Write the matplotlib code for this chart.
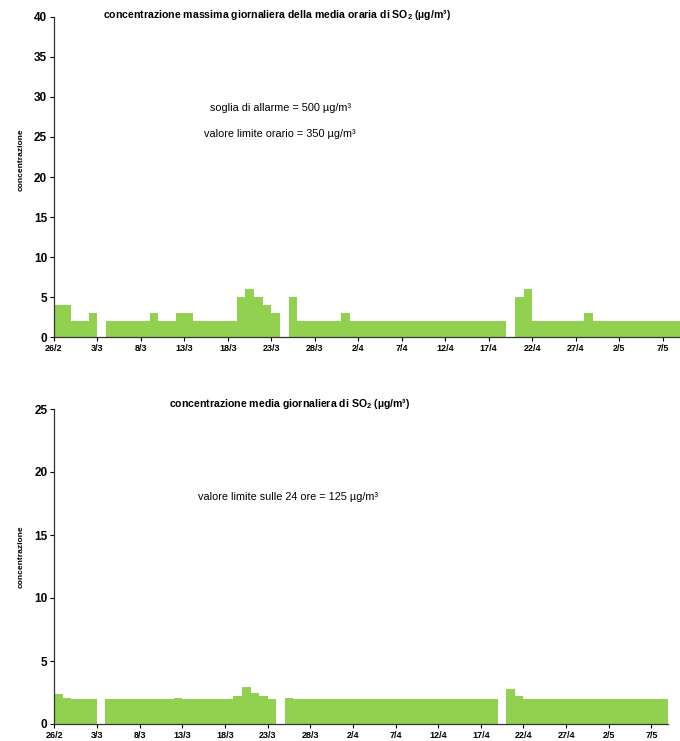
import matplotlib
matplotlib.use("Agg")
import matplotlib.pyplot as plt
import numpy as np
import pandas as pd
from matplotlib import font_manager

# font condensato tipo Arial Narrow, se c'e'
nomi = [f.name for f in font_manager.fontManager.ttflist]
fam = "Liberation Sans Narrow" if "Liberation Sans Narrow" in nomi else "Liberation Sans"
plt.rcParams['font.family'] = [fam, 'DejaVu Sans']
plt.rcParams['mathtext.fontset'] = 'custom'
plt.rcParams['mathtext.rm'] = fam
plt.rcParams['mathtext.bf'] = fam + ':bold'

# giorni dal 26/2 all'8/5 (72 giorni), nan = dato mancante
giorni = pd.date_range("2013-02-26", "2013-05-08", freq="D")
etichette = [f"{d.day}/{d.month}" for d in giorni]

# massimo giornaliero della media oraria
so2_max = ([4, 4, 2] +                                     # feb 26-28
           [2, 3, np.nan, 2, 2, 2, 2, 2, 3, 2, 2, 3, 3,    # mar 1-13
            2, 2, 2, 2, 2, 5, 6, 5, 4, 3, np.nan, 5,       # mar 14-25
            2, 2, 2, 2, 2, 3] +                            # mar 26-31
           [2] * 18 + [np.nan, 5, 6, 2, 2, 2, 2, 2, 2, 3, 2, 2] +  # aprile
           [2] * 8)                                        # maggio 1-8

# media giornaliera
so2_media = ([2.35, 2.1, 2.0] +
             [2.0, 2.0, np.nan, 2.0, 2.0, 2.0, 2.0, 2.0, 2.0, 2.0, 2.0, 2.1,
              2.0, 2.0, 2.0, 2.0, 2.0, 2.0, 2.2, 2.9, 2.5, 2.2, 2.0, np.nan, 2.1,
              2.0, 2.0, 2.0, 2.0, 2.0, 2.0] +
             [2.0] * 18 + [np.nan, 2.8, 2.2] + [2.0] * 9 +
             [2.0] * 8)

verde = '#92D050'
W, H = 680, 741
fig = plt.figure(figsize=(W / 100, H / 100), dpi=100)

def pannello(rect, valori, ymax, titolo, note, tit_xy, note_xy, ylab_y):
    ax = fig.add_axes(rect)
    x = np.arange(len(valori))
    ax.bar(x, valori, width=1.0, align='edge', color=verde, edgecolor='none')
    ax.set_xlim(0, len(valori))
    ax.set_ylim(0, ymax)
    ax.set_yticks(np.arange(0, ymax + 1, 5))
    ax.set_xticks(x[::5])
    ax.set_xticklabels(etichette[::5], fontsize=6.5, fontweight='bold')
    for t in ax.get_yticklabels():
        t.set_fontsize(8.5)
        t.set_fontweight('bold')
    ax.tick_params(axis='y', direction='out', length=3, width=0.8, pad=2)
    ax.tick_params(axis='x', direction='out', length=3, width=0.8, pad=2)
    for s in ['top', 'right']:
        ax.spines[s].set_visible(False)
    for s in ['left', 'bottom']:
        ax.spines[s].set_color('#333333')
        ax.spines[s].set_linewidth(0.9)
    fig.text(tit_xy[0] / W, 1 - tit_xy[1] / H, titolo, ha='center', va='center',
             fontsize=7.6, fontweight='bold')
    for (nx, ny), txt in zip(note_xy, note):
        fig.text(nx / W, 1 - ny / H, txt, ha='center', va='center', fontsize=7.8)
    fig.text(21 / W, 1 - ylab_y / H, 'concentrazione', rotation=90, ha='center',
             va='center', fontsize=6, fontweight='bold')
    return ax

pannello([54 / W, 1 - 337 / H, (680 - 54) / W, 320 / H], so2_max, 40,
         r'concentrazione massima giornaliera della media oraria di SO$_\mathbf{2}$ (µg/m³)',
         ['soglia di allarme = 500 µg/m³', 'valore limite orario = 350 µg/m³'],
         (277, 15), [(280, 108), (280, 134)], 160)

pannello([54.3 / W, 1 - 724 / H, (668.5 - 54.3) / W, 315 / H], so2_media, 25,
         r'concentrazione media giornaliera di SO$_\mathbf{2}$ (µg/m³)',
         ['valore limite sulle 24 ore = 125 µg/m³'],
         (290, 404), [(288, 497)], 557)

fig.savefig('out.png', dpi=100)
